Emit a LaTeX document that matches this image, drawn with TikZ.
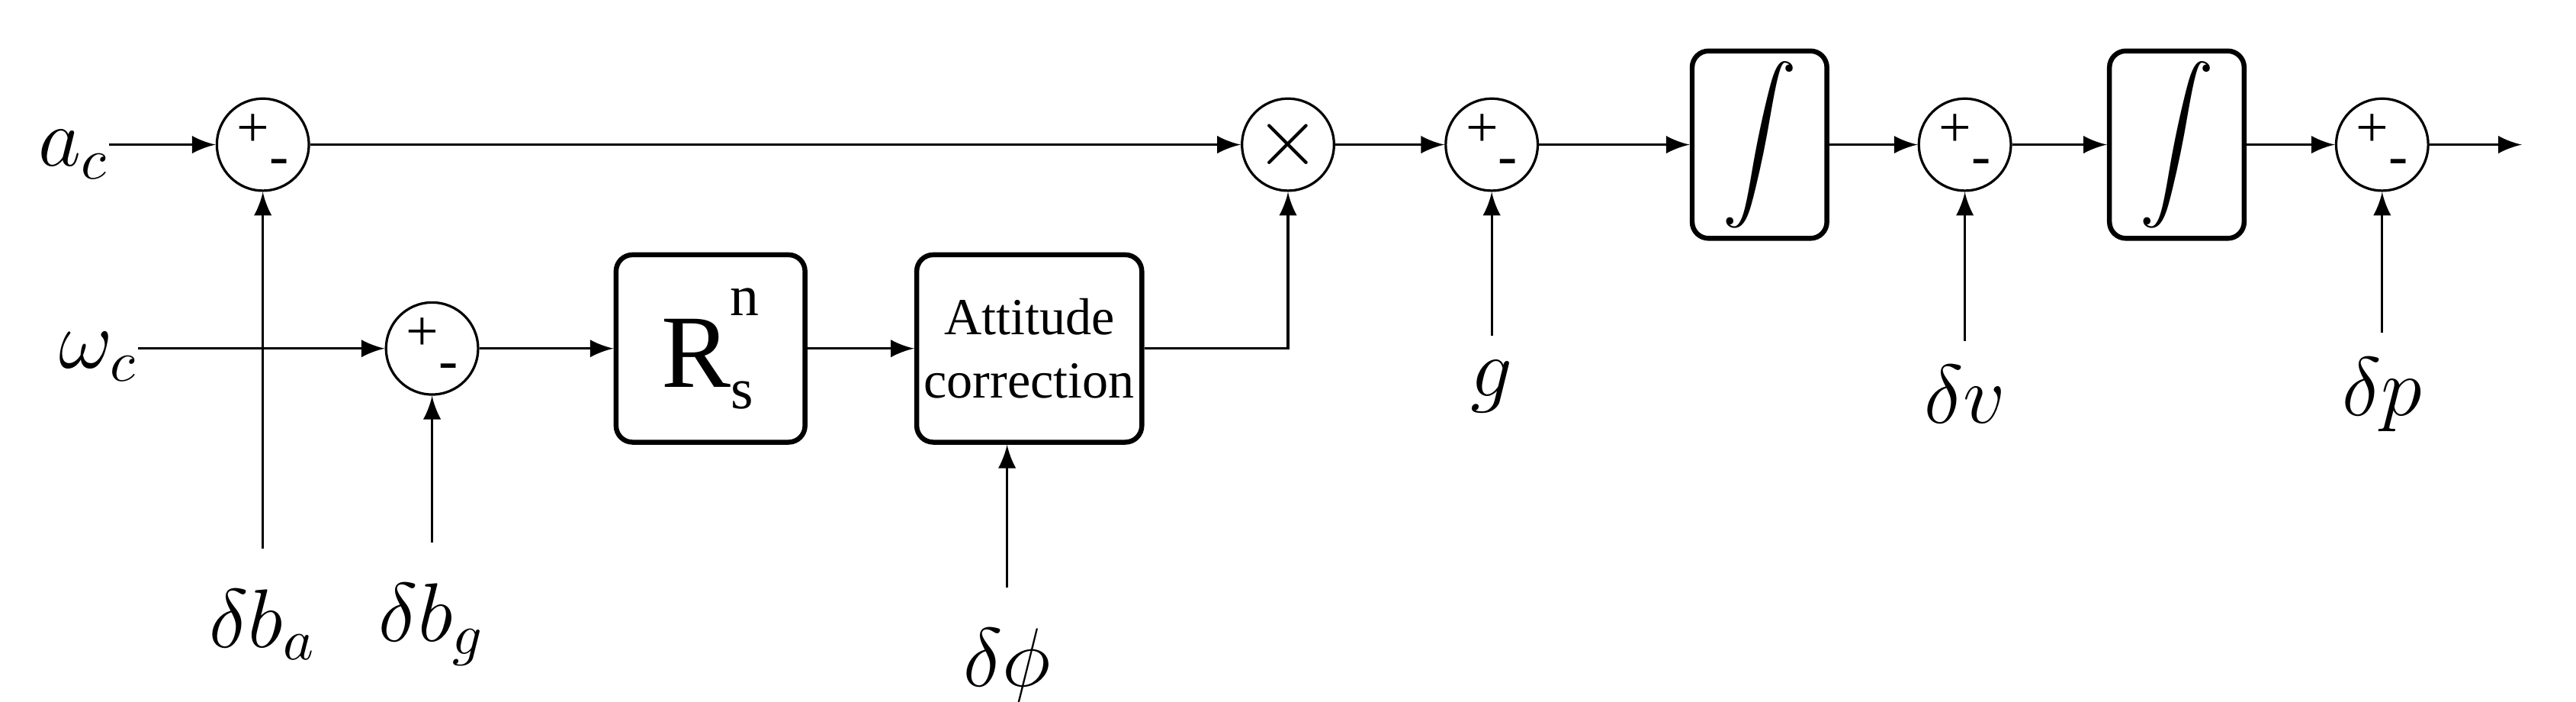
\documentclass[tikz,border=0pt]{standalone}
\usepackage{fontspec}
\setmainfont{Liberation Serif}
\usepackage{graphicx}
\begin{document}
\begin{tikzpicture}

	%DEFINICIONES
	\tikzstyle{every node}=[font=\Large]
	\tikzstyle{sumador} = [draw, circle, line width=0.15mm, minimum size=0.56cm, inner sep=0pt]
	\tikzstyle{block} = [draw, rounded corners=0.1cm, align=center, line width=0.3mm, minimum width=1.15cm, minimum height=1.14cm, inner sep=0pt]
	\tikzstyle{blank} = [align=center, inner sep=0pt, outer sep=0pt]
	\tikzstyle{flecha} = [->, line width=0.15mm, >=latex]
	\newcommand{\signos}{\raisebox{2pt}{\normalsize +}\raisebox{-3pt}{\normalsize -}}
	\useasboundingbox (0,0) rectangle (15.68,4.27);

	%BLOQUES
	\draw(0.45,3.33) node[blank](ac){$a_c$};
	\draw(0.6,2.1) node[blank](wc){$\omega_c$};
	\draw(1.6,3.39) node[sumador](s1){\signos};
	\draw(2.63,2.15) node[sumador](s2){\signos};
	\draw(4.325,2.15) node[block](R){\fontsize{18}{20}\selectfont R\raisebox{-0.45ex}{\normalsize s}\kern-4pt\raisebox{1.5ex}{\normalsize n}};
	\draw(6.265,2.15) node[block, minimum width=1.37cm, font=\small](att){Attitude\\correction};
	\draw(7.84,3.39) node[sumador](m){$\times$};
	\draw(9.08,3.39) node[sumador](sg){\signos};
	\draw(10.71,3.39) node[block, minimum width=0.82cm](i1){\scalebox{1.3}{$\displaystyle\int$}};
	\draw(11.96,3.39) node[sumador](sv){\signos};
	\draw(13.25,3.39) node[block, minimum width=0.82cm](i2){\scalebox{1.3}{$\displaystyle\int$}};
	\draw(14.5,3.39) node[sumador](sp){\signos};
	\coordinate (out) at (15.35,3.39);

	\draw(1.6,0.47) node[blank](ba){$\delta b_a$};
	\draw(2.63,0.47) node[blank](bg){$\delta b_g$};
	\draw(6.13,0.22) node[blank](phi){$\delta\phi$};
	\draw(9.08,1.92) node[blank](g){$g$};
	\draw(11.96,1.87) node[blank](dv){$\delta v$};
	\draw(14.5,1.87) node[blank](dp){$\delta p$};

	%FLECHAS
	\draw [flecha] (ac.east |- s1) -- (s1);
	\draw [flecha] (s1) -- (m);
	\draw [flecha] (wc.east |- s2) -- (s2);
	\draw [flecha] (s2) -- (R);
	\draw [flecha] (R) -- (att);
	\draw [flecha] (att.east) -| (m.south);
	\draw [flecha] (m) -- (sg);
	\draw [flecha] (sg) -- (i1);
	\draw [flecha] (i1) -- (sv);
	\draw [flecha] (sv) -- (i2);
	\draw [flecha] (i2) -- (sp);
	\draw [flecha] (sp) -- (out);

	\draw [flecha] (ba.north) ++(0,0.25) coordinate (ba1) (ba1) -- (s1.south);
	\draw [flecha] (bg.north) ++(0,0.25) coordinate (bg1) (bg1) -- (s2.south);
	\draw [flecha] (phi.north) ++(0,0.25) coordinate (phi1) (phi1) -- (phi1 |- att.south);
	\draw [flecha] (g.north) ++(0,0.15) coordinate (g1) (g1) -- (sg.south);
	\draw [flecha] (dv.north) ++(0,0.15) coordinate (dv1) (dv1) -- (sv.south);
	\draw [flecha] (dp.north) ++(0,0.15) coordinate (dp1) (dp1) -- (sp.south);
\end{tikzpicture}
\end{document}
